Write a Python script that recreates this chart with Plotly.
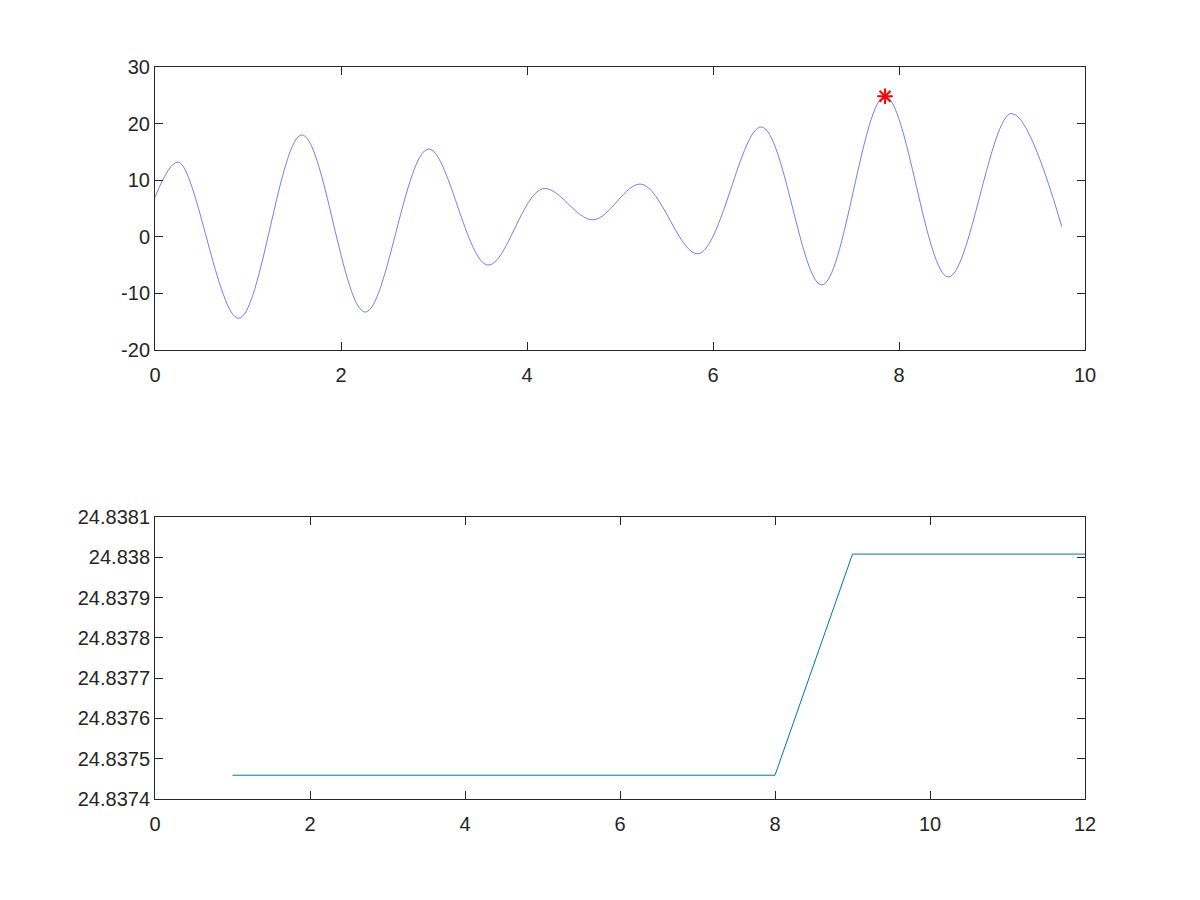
import plotly.graph_objects as go

# Top panel: signal (start, extrema, end)
sig_x = [0.00, 0.25, 0.90, 1.58, 2.26, 2.94, 3.58, 4.17, 4.71, 5.23, 5.84,
         6.52, 7.17, 7.85, 8.53, 9.21, 9.75]
sig_y = [7.0, 13.2, -14.4, 18.0, -13.3, 15.5, -5.0, 8.5, 3.0, 9.3, -3.0,
         19.4, -8.5, 24.838, -7.1, 21.8, 1.8]
peak_x = [7.85]
peak_y = [24.838]

# Bottom panel
run_x = [1, 2, 3, 4, 5, 6, 7, 8, 9, 10, 11, 12]
run_y = [24.837459] * 8 + [24.838008] * 4

top_xticks = [0, 2, 4, 6, 8, 10]
top_yticks = [-20, -10, 0, 10, 20, 30]
top_ylabels = ["-20", "-10", "0", "10", "20", "30"]
bot_xticks = [0, 2, 4, 6, 8, 10, 12]
bot_yticks = [24.8374, 24.8375, 24.8376, 24.8377, 24.8378, 24.8379, 24.8380, 24.8381]
bot_ylabels = ["24.8374", "24.8375", "24.8376", "24.8377", "24.8378", "24.8379", "24.838", "24.8381"]

fig = go.Figure()
fig.add_trace(go.Scatter(x=sig_x, y=sig_y, mode="lines",
                         line=dict(color="#2020ff", width=0.6, shape="spline", smoothing=1.0),
                         xaxis="x", yaxis="y", showlegend=False))
fig.add_trace(go.Scatter(x=peak_x, y=peak_y, mode="markers",
                         marker=dict(symbol="asterisk-open", size=13, color="red",
                                     line=dict(color="red", width=2)),
                         xaxis="x", yaxis="y", showlegend=False))
fig.add_trace(go.Scatter(x=run_x, y=run_y, mode="lines",
                         line=dict(color="#0072bd", width=1),
                         xaxis="x2", yaxis="y2", showlegend=False))

axcommon = dict(showgrid=False, zeroline=False, showline=True, linecolor="#262626",
                linewidth=1, mirror="ticks", ticks="inside", ticklen=8, tickwidth=1,
                automargin=False,
                tickcolor="#262626", tickfont=dict(family="Liberation Sans, Arial", size=20, color="#262626"))

fig.update_layout(
    width=1200, height=900,
    margin=dict(l=147, r=123, t=59, b=109),
    paper_bgcolor="white", plot_bgcolor="white",
    xaxis=dict(domain=[0, 1], range=[0, 10], tickvals=top_xticks,
               anchor="y", ticklabelstandoff=7, **axcommon),
    yaxis=dict(domain=[0.6134, 1], range=[-20, 30], tickvals=top_yticks,
               ticktext=top_ylabels, anchor="x", **axcommon),
    xaxis2=dict(domain=[0, 1], range=[0, 12], tickvals=bot_xticks,
                anchor="y2", ticklabelstandoff=7, **axcommon),
    yaxis2=dict(domain=[0, 0.3852], range=[24.8374, 24.8381], tickvals=bot_yticks,
                ticktext=bot_ylabels, anchor="x2", **axcommon),
)

fig.write_html("out.html")
